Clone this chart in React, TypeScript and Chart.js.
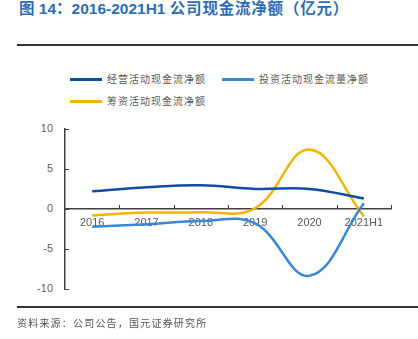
import React, { useEffect, useRef } from "react";
import { Chart, registerables } from "chart.js";

Chart.register(...registerables);

const categories = ["2016", "2017", "2018", "2019", "2020", "2021H1"];
const operatingCF = [2.2, 2.7, 2.95, 2.5, 2.5, 1.3];
const investingCF = [-2.2, -1.9, -1.5, -1.8, -8.3, 0.7];
const financingCF = [-0.8, -0.45, -0.4, 0.1, 7.4, -0.9];
const seriesNames = ["经营活动现金流净额", "投资活动现金流量净额", "筹资活动现金流净额"];
const seriesColors = ["#0D4EA0", "#3A88D3", "#F5B400"];
const yTicks = [-10, -5, 0, 5, 10];

const AXIS_COLOR = "#404040";
const LABEL_COLOR = "#595959";

const innerTicks = {
  id: "innerTicks",
  afterDraw(chart: any) {
    const ctx = chart.ctx;
    const xs = chart.scales.x;
    const ys = chart.scales.y;
    const y0 = ys.getPixelForValue(0);
    ctx.save();
    ctx.strokeStyle = AXIS_COLOR;
    ctx.lineWidth = 1;
    const n = categories.length;
    const step = (xs.right - xs.left) / n;
    for (let i = 1; i <= n; i++) {
      const x = Math.round(xs.left + i * step) + 0.5;
      ctx.beginPath();
      ctx.moveTo(x, y0);
      ctx.lineTo(x, y0 - 4);
      ctx.stroke();
    }
    yTicks.forEach((v) => {
      const y = Math.round(ys.getPixelForValue(v)) + 0.5;
      ctx.beginPath();
      ctx.moveTo(ys.right, y);
      ctx.lineTo(ys.right + 4, y);
      ctx.stroke();
    });
    ctx.restore();
  },
};

export default function App() {
  const ref = useRef<HTMLCanvasElement>(null);
  useEffect(() => {
    const data = [operatingCF, investingCF, financingCF];
    const chart = new Chart(ref.current!, {
      type: "line",
      data: {
        labels: categories,
        datasets: data.map((d, i) => ({
          label: seriesNames[i],
          data: d,
          borderColor: seriesColors[i],
          backgroundColor: seriesColors[i],
          borderWidth: 2.5,
          pointRadius: 0,
          tension: 0.4,
          fill: false,
        })),
      },
      options: {
        animation: false,
        responsive: false,
        maintainAspectRatio: false,
        layout: { padding: { left: 0, right: 27, top: 12, bottom: 10 } },
        plugins: { legend: { display: false }, tooltip: { enabled: false } },
        scales: {
          x: {
            position: { y: 0 },
            offset: true,
            grid: { drawOnChartArea: false, drawTicks: false, offset: true },
            border: { color: AXIS_COLOR, width: 1.5 },
            ticks: {
              color: LABEL_COLOR,
              font: { family: "Liberation Sans, Arial, sans-serif", size: 11 },
              padding: 7,
              maxRotation: 0,
              autoSkip: false,
            },
          },
          y: {
            min: -10,
            max: 10,
            afterFit(scale: any) {
              scale.width = 65;
            },
            afterBuildTicks(scale: any) {
              scale.ticks = yTicks.map((v) => ({ value: v }));
            },
            grid: { drawOnChartArea: false, drawTicks: false },
            border: { color: AXIS_COLOR, width: 1.5 },
            ticks: {
              color: LABEL_COLOR,
              font: { family: "Liberation Sans, Arial, sans-serif", size: 11 },
              padding: 12,
            },
          },
        },
      },
      plugins: [innerTicks],
    });
    return () => chart.destroy();
  }, []);

  const cjk = "'Noto Sans CJK SC', sans-serif";
  const legendItem = (i: number, left: number, top: number) => (
    <div key={i} style={{ position: "absolute", left, top, display: "flex", alignItems: "center" }}>
      <div style={{ width: 32, height: 3, background: seriesColors[i], marginRight: 5 }} />
      <span style={{ fontFamily: cjk, fontSize: 10, color: LABEL_COLOR, letterSpacing: 1, whiteSpace: "nowrap", lineHeight: "12px" }}>
        {seriesNames[i]}
      </span>
    </div>
  );

  return (
    <div style={{ position: "absolute", left: 0, top: 0, width: 418, height: 339, background: "#fff", overflow: "hidden" }}>
      <div
        style={{
          position: "absolute",
          left: 19,
          top: 0,
          fontFamily: "'Liberation Sans', 'Noto Sans CJK SC', sans-serif",
          fontWeight: "bold",
          fontSize: 15.5,
          color: "#2E6DB4",
          whiteSpace: "nowrap",
          lineHeight: "17px",
        }}
      >
        图 14：2016-2021H1 <span style={{ letterSpacing: 0.8 }}>公司现金流净额（亿元）</span>
      </div>
      <div style={{ position: "absolute", left: 17, top: 44, width: 401, height: 2, background: "#333" }} />
      {legendItem(0, 70, 73)}
      {legendItem(1, 222, 73)}
      {legendItem(2, 70, 95)}
      <canvas ref={ref} width={418} height={198} style={{ position: "absolute", left: 0, top: 110, width: 418, height: 198 }} />
      <div style={{ position: "absolute", left: 17, top: 306, width: 401, height: 2, background: "#333" }} />
      <div
        style={{
          position: "absolute",
          left: 17,
          top: 316,
          fontFamily: cjk,
          fontSize: 10,
          color: "#555",
          letterSpacing: 1.2,
          whiteSpace: "nowrap",
          lineHeight: "13px",
        }}
      >
        资料来源：公司公告，国元证券研究所
      </div>
    </div>
  );
}
